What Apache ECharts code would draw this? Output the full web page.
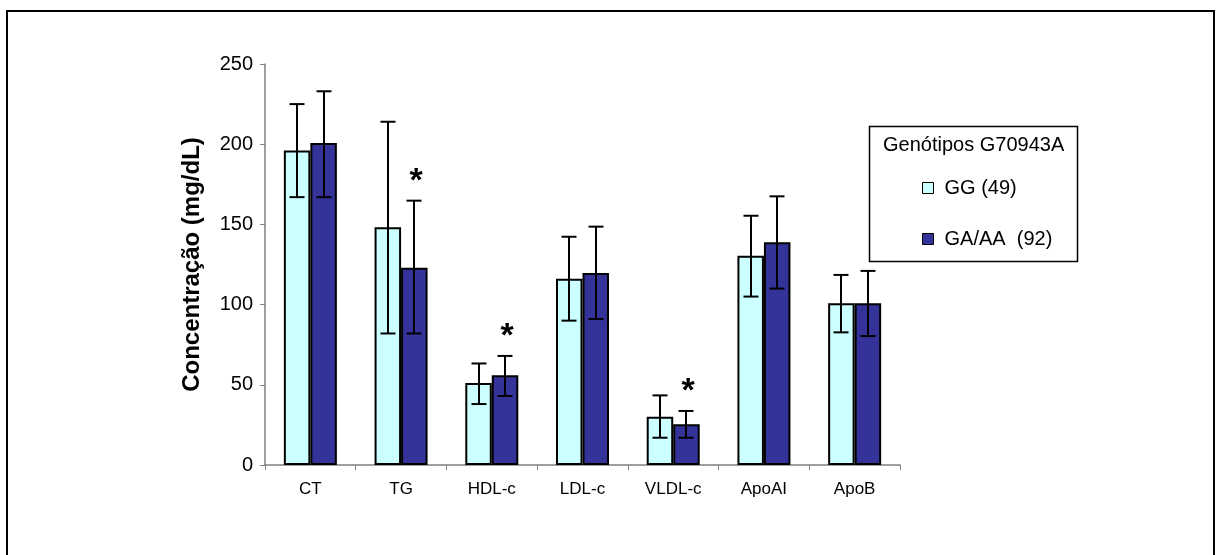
<!DOCTYPE html>
<html>
<head>
<meta charset="utf-8">
<script src="https://cdn.jsdelivr.net/npm/echarts@6/dist/echarts.min.js"></script>
<style>
html,body{margin:0;padding:0;background:#fff;}
#chart{width:1217px;height:555px;}
</style>
</head>
<body>
<div id="chart"></div>
<script>
const categories = ['CT', 'TG', 'HDL-c', 'LDL-c', 'VLDL-c', 'ApoAI', 'ApoB'];
const yTicks = [0, 50, 100, 150, 200, 250];
const ggName = 'GG (49)';
const gaName = 'GA/AA  (92)';
const ggMean = [196, 148.3, 51.2, 116.1, 30.1, 130.5, 100.8];
const ggLow  = [167, 82, 38, 90, 17, 105, 82.7];
const ggHigh = [225, 214, 63.3, 142.3, 43.4, 155.4, 118.5];
const gaMean = [200.8, 123, 56, 119.7, 25.4, 138.8, 100.8];
const gaLow  = [167, 82, 43, 91, 17, 110, 80.4];
const gaHigh = [233, 164.8, 68, 148.6, 33.7, 167.5, 121];
const gaSignif = ['', '*', '*', '', '*', '', ''];
const ggSignif = ['', '', '', '', '', '', ''];

const BAR_W = 26.5;
const FONT = '"Liberation Sans", Arial, sans-serif';

function errData(lo, hi, sig) {
  return categories.map((c, i) => [i, lo[i], hi[i], sig[i]]);
}
function errRender(offset) {
  return function (params, api) {
    const idx = api.value(0);
    const pLo = api.coord([idx, api.value(1)]);
    const pHi = api.coord([idx, api.value(2)]);
    const x = Math.round(pLo[0] + offset);
    const cap = 7.5;
    const st = { stroke: '#000', lineWidth: 2 };
    const children = [
      { type: 'line', shape: { x1: x, y1: pLo[1], x2: x, y2: pHi[1] }, style: st },
      { type: 'line', shape: { x1: x - cap, y1: pHi[1], x2: x + cap, y2: pHi[1] }, style: st },
      { type: 'line', shape: { x1: x - cap, y1: pLo[1], x2: x + cap, y2: pLo[1] }, style: st }
    ];
    const sig = params.seriesIndex === 3 ? gaSignif[idx] : ggSignif[idx];
    if (sig) {
      children.push({
        type: 'text',
        style: { text: sig, x: x + 2, y: pHi[1] - 19, fill: '#000',
          font: 'bold 34px ' + FONT, align: 'center', verticalAlign: 'middle' }
      });
    }
    return { type: 'group', children: children };
  };
}

const chart = echarts.init(document.getElementById('chart'), null, { renderer: 'canvas' });
chart.setOption({
  backgroundColor: '#fff',
  animation: false,
  textStyle: { fontFamily: FONT },
  grid: { left: 265, right: 317, top: 64, bottom: 90, containLabel: false },
  xAxis: {
    type: 'category',
    data: categories,
    axisLine: { lineStyle: { color: '#808080', width: 1.5 } },
    axisTick: { show: true, length: 5, lineStyle: { color: '#808080', width: 1 } },
    axisLabel: { color: '#000', fontSize: 17, margin: 16, fontFamily: FONT }
  },
  yAxis: {
    type: 'value',
    min: 0, max: 250, interval: 50,
    name: 'Concentração (mg/dL)',
    nameLocation: 'middle',
    nameGap: 61,
    nameTextStyle: { color: '#000', fontSize: 24, fontWeight: 'bold', fontFamily: FONT },
    axisLine: { show: true, lineStyle: { color: '#808080', width: 1.5 } },
    axisTick: { show: true, length: 5, lineStyle: { color: '#808080', width: 1 } },
    splitLine: { show: false },
    axisLabel: { color: '#000', fontSize: 20, margin: 12, fontFamily: FONT,
      formatter: function (v) { return yTicks.indexOf(v) >= 0 ? String(v) : ''; } }
  },
  legend: {
    orient: 'vertical',
    left: 922, top: 177,
    padding: 0,
    itemGap: 29,
    itemWidth: 11, itemHeight: 11,
    icon: 'rect',
    selectedMode: false,
    data: [ggName, gaName],
    itemStyle: { borderColor: '#000', borderWidth: 1 },
    textStyle: { color: '#000', fontSize: 20, lineHeight: 22, fontFamily: FONT, padding: [0, 0, 0, 6] }
  },
  graphic: [
    { type: 'rect', z: 1, shape: { x: 7, y: 11, width: 1207, height: 560 },
      style: { fill: 'none', stroke: '#000', lineWidth: 2 } },
    { type: 'rect', z: 1, shape: { x: 869.5, y: 126.5, width: 208, height: 135 },
      style: { fill: '#fff', stroke: '#000', lineWidth: 1.5 } },
    { type: 'text', z: 2, style: { text: 'Genótipos G70943A', x: 883, y: 145,
      fill: '#000', font: '20px ' + FONT, verticalAlign: 'middle' } }
  ],
  series: [
    { name: ggName, type: 'bar', data: ggMean, barWidth: BAR_W, barGap: '0%',
      itemStyle: { color: '#CCFFFF', borderColor: '#000', borderWidth: 2 } },
    { name: gaName, type: 'bar', data: gaMean, barWidth: BAR_W, barGap: '0%',
      itemStyle: { color: '#333399', borderColor: '#000', borderWidth: 2 } },
    { type: 'custom', name: 'errGG', z: 5, renderItem: errRender(-BAR_W / 2),
      data: errData(ggLow, ggHigh, ggSignif), encode: { x: 0, y: [1, 2] } },
    { type: 'custom', name: 'errGA', z: 5, renderItem: errRender(BAR_W / 2),
      data: errData(gaLow, gaHigh, gaSignif), encode: { x: 0, y: [1, 2] } }
  ]
});
</script>
</body>
</html>
